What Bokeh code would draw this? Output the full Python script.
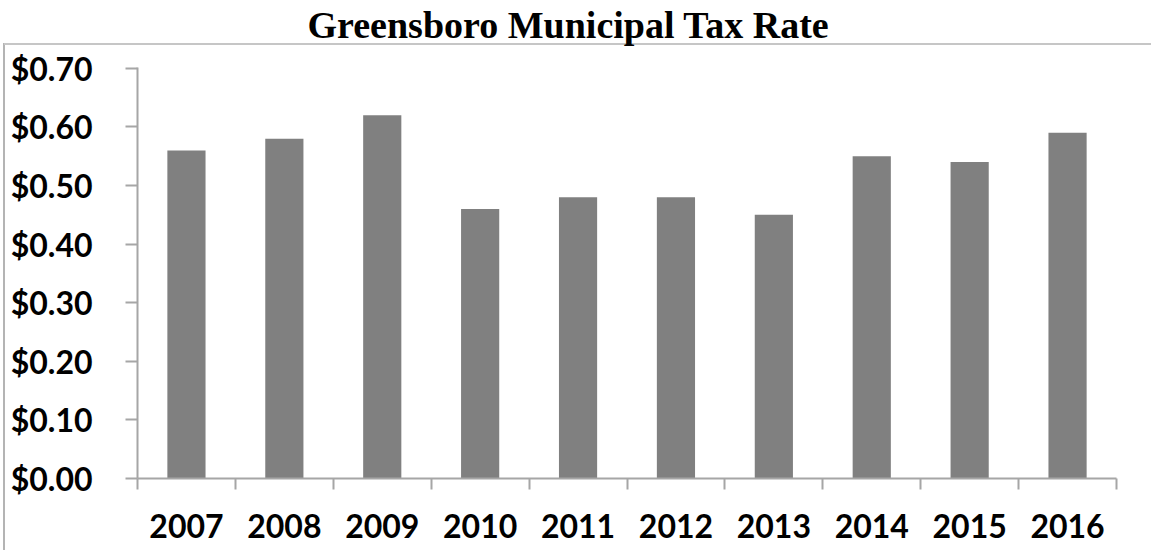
from bokeh.plotting import figure
from bokeh.models import Range1d, FixedTicker, NumeralTickFormatter, LinearAxis
from bokeh.embed import file_html
from bokeh.resources import INLINE

title_text = "Greensboro Municipal Tax Rate"
years = ["2007", "2008", "2009", "2010", "2011", "2012", "2013", "2014", "2015", "2016"]
rates = [0.56, 0.58, 0.62, 0.46, 0.48, 0.48, 0.45, 0.55, 0.54, 0.59]
y_ticks = [0.0, 0.1, 0.2, 0.3, 0.4, 0.5, 0.6, 0.7]

grid_col = "#a6a6a6"
bar_col = "#808080"

SHIFT = 19  # figure is pulled up so the title sits close to the top edge
centers = [i + 0.5 for i in range(len(years))]
bounds = [float(i) for i in range(len(years) + 1)]

p = figure(width=1151, height=550 + SHIFT, output_backend="svg", toolbar_location=None,
           x_range=Range1d(0, len(years)), y_range=Range1d(0, 0.7015),
           x_axis_type=None, y_axis_type=None,
           min_border_left=137, min_border_right=35, min_border_top=67 + SHIFT,
           min_border_bottom=72)
p.outline_line_color = None
p.border_fill_color = None
p.background_fill_color = "white"
p.styles = {
    "margin-top": f"-{SHIFT}px",
    "background": f"linear-gradient(#c6c6c6,#c6c6c6) 4px {43 + SHIFT}px / 100% 2px no-repeat, "
                  f"linear-gradient(#b4b4b4,#b4b4b4) 3px {43 + SHIFT}px / 2px 100% no-repeat, white"
}

p.title.text = title_text
p.title.text_font = "Liberation Serif"
p.title.text_font_style = "bold"
p.title.text_font_size = "38px"
p.title.text_color = "black"
p.title.align = "left"
p.title.vertical_align = "top"
p.title.offset = 170
p.title.standoff = 40

p.vbar(x=centers, top=rates, width=0.39, fill_color=bar_col, line_color=None)

xaxis = LinearAxis(ticker=FixedTicker(ticks=centers, minor_ticks=bounds))
xaxis.major_label_overrides = {c: y for c, y in zip(centers, years)}
xaxis.major_tick_out = 0
xaxis.major_tick_in = 0
xaxis.minor_tick_out = 11
xaxis.minor_tick_in = 0
xaxis.minor_tick_line_color = grid_col
xaxis.minor_tick_line_width = 2
xaxis.axis_line_color = grid_col
xaxis.axis_line_width = 2
xaxis.major_label_text_font = "Lato"
xaxis.major_label_text_font_style = "bold"
xaxis.major_label_text_font_size = "32px"
xaxis.major_label_text_color = "black"
xaxis.major_label_standoff = 24
p.add_layout(xaxis, "below")

yaxis = LinearAxis(ticker=FixedTicker(ticks=y_ticks),
                   formatter=NumeralTickFormatter(format="$0.00"))
yaxis.major_tick_out = 12
yaxis.major_tick_in = 0
yaxis.minor_tick_out = 0
yaxis.minor_tick_in = 0
yaxis.major_tick_line_color = grid_col
yaxis.major_tick_line_width = 2
yaxis.axis_line_color = grid_col
yaxis.axis_line_width = 2
yaxis.major_label_text_font = "Lato"
yaxis.major_label_text_font_style = "bold"
yaxis.major_label_text_font_size = "32px"
yaxis.major_label_text_color = "black"
yaxis.major_label_standoff = 33
p.add_layout(yaxis, "left")

p.ygrid.ticker = FixedTicker(ticks=y_ticks)
p.ygrid.grid_line_color = grid_col
p.ygrid.grid_line_width = 2
p.xgrid.grid_line_color = None

open("out.html", "w").write(file_html(p, INLINE))
